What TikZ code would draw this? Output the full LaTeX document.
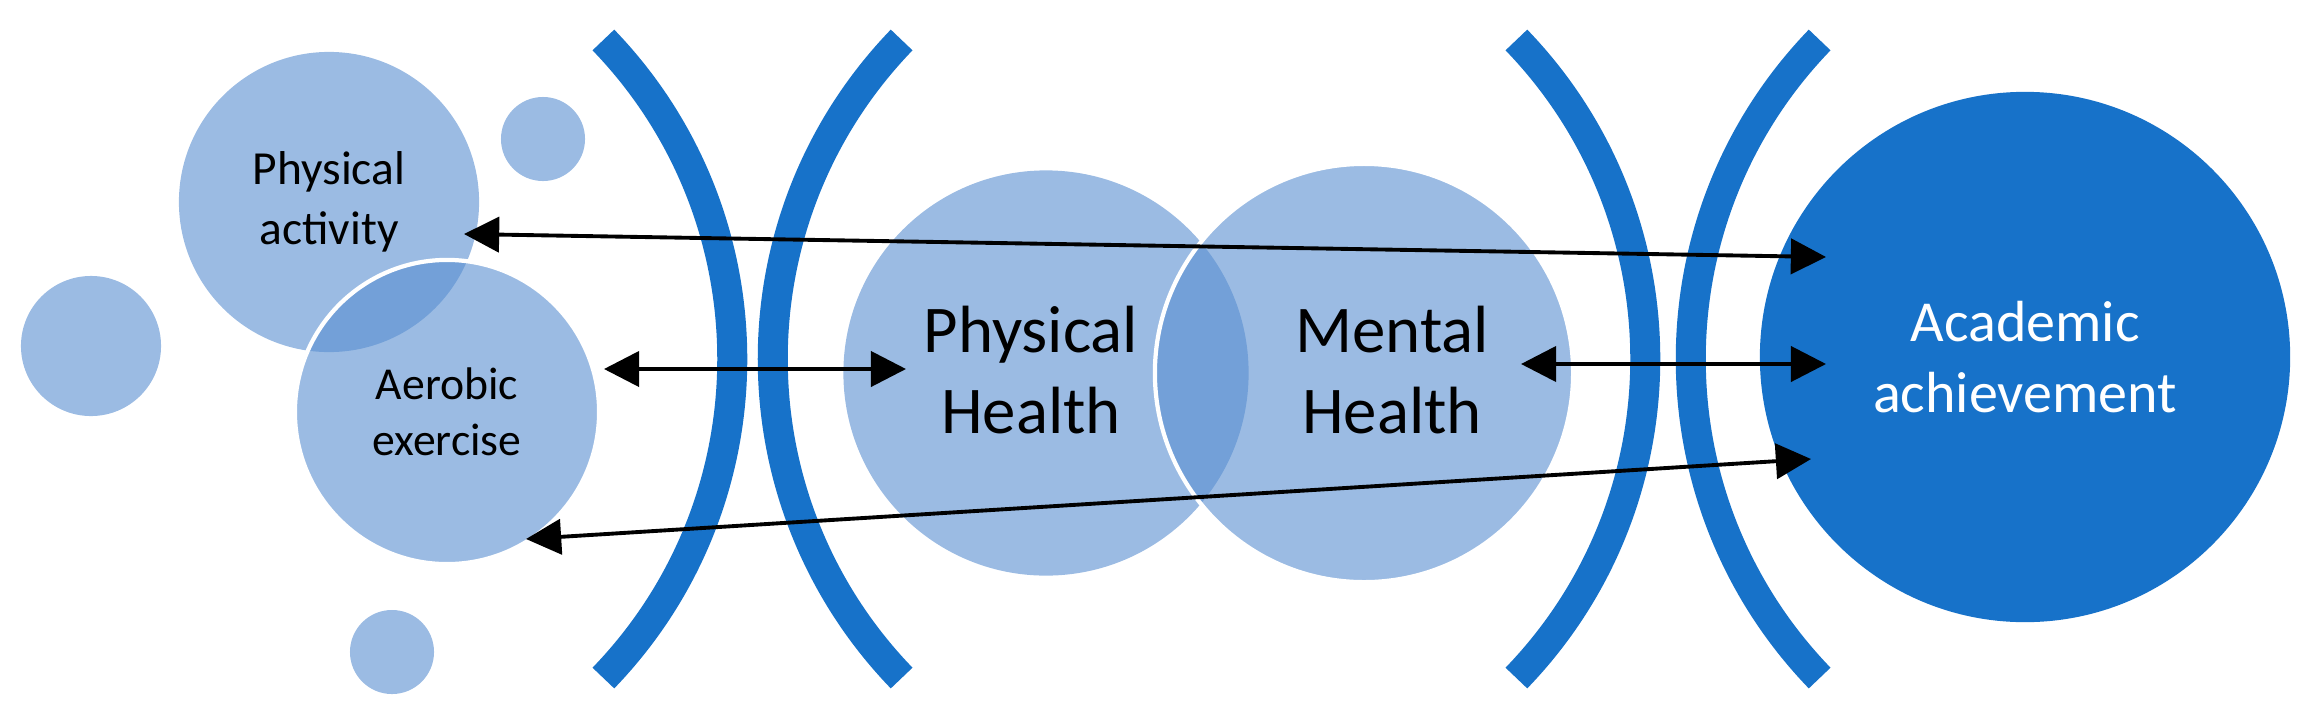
\documentclass[tikz,border=0pt]{standalone}
\usepackage{fontspec}
\setmainfont{Carlito}
\usetikzlibrary{arrows.meta}
\definecolor{lb}{RGB}{88,142,208}
\definecolor{db}{RGB}{23,114,201}
\begin{document}
\begin{tikzpicture}[x=0.01cm,y=0.01cm,
  bub/.style={circle,fill=lb,fill opacity=0.6,text opacity=1,inner sep=0,align=center},
  wb/.style={bub,draw=white,line width=1.2pt,draw opacity=1},
  brk/.style={draw=db,line width=0.3cm},
  arr/.style={{Triangle[length=10pt,width=10pt]}-{Triangle[length=10pt,width=10pt]},line width=1.1pt,black}]
\useasboundingbox (0,0) rectangle (2313,717);
% small bubbles
\node[bub,minimum size=0.84cm] (s1) at (543,578) {};
\node[bub,minimum size=1.4cm] (s2) at (91,371) {};
\node[bub,minimum size=0.84cm] (s3) at (392,65) {};
% main bubbles
\node[bub,minimum size=3cm,font=\fontsize{13.5}{17}\selectfont] (pa) at (329,515) {Physical\\activity};
\node[wb,minimum size=3.04cm,font=\fontsize{13}{16}\selectfont] (ae) at (447,305) {Aerobic\\exercise};
\node[bub,minimum size=4.05cm] (ph) at (1046,344) {};
\node[wb,minimum size=4.18cm] (mh) at (1364,344) {};
\node[font=\fontsize{19}{23}\selectfont,align=center] (pht) at (1031,347) {Physical\\Health};
\node[font=\fontsize{19}{23}\selectfont,align=center] (mht) at (1392,347) {Mental\\Health};
\node[circle,fill=db,inner sep=0,minimum size=5.3cm,text=white,align=center,font=\fontsize{16.5}{20}\selectfont] (aa) at (2025,360) {Academic\\achievement};
% brackets
\draw[brk] ([shift={(-44:4.59cm)}]273,358) arc[start angle=-44,end angle=44,radius=4.59cm];
\draw[brk] ([shift={(136:4.59cm)}]1232,358) arc[start angle=136,end angle=224,radius=4.59cm];
\draw[brk] ([shift={(-44:4.59cm)}]1186,358) arc[start angle=-44,end angle=44,radius=4.59cm];
\draw[brk] ([shift={(136:4.59cm)}]2150,358) arc[start angle=136,end angle=224,radius=4.59cm];
% arrow ends
\coordinate (a1) at (464,483); \coordinate (b1) at (1826,460);
\coordinate (a2) at (604,348); \coordinate (b2) at (906,348);
\coordinate (a3) at (1521,353); \coordinate (b3) at (1826,353);
\coordinate (a4) at (526,178); \coordinate (b4) at (1811,258);
\draw[arr] (a1) -- (b1);
\draw[arr] (a2) -- (b2);
\draw[arr] (a3) -- (b3);
\draw[arr] (a4) -- (b4);
\end{tikzpicture}
\end{document}
